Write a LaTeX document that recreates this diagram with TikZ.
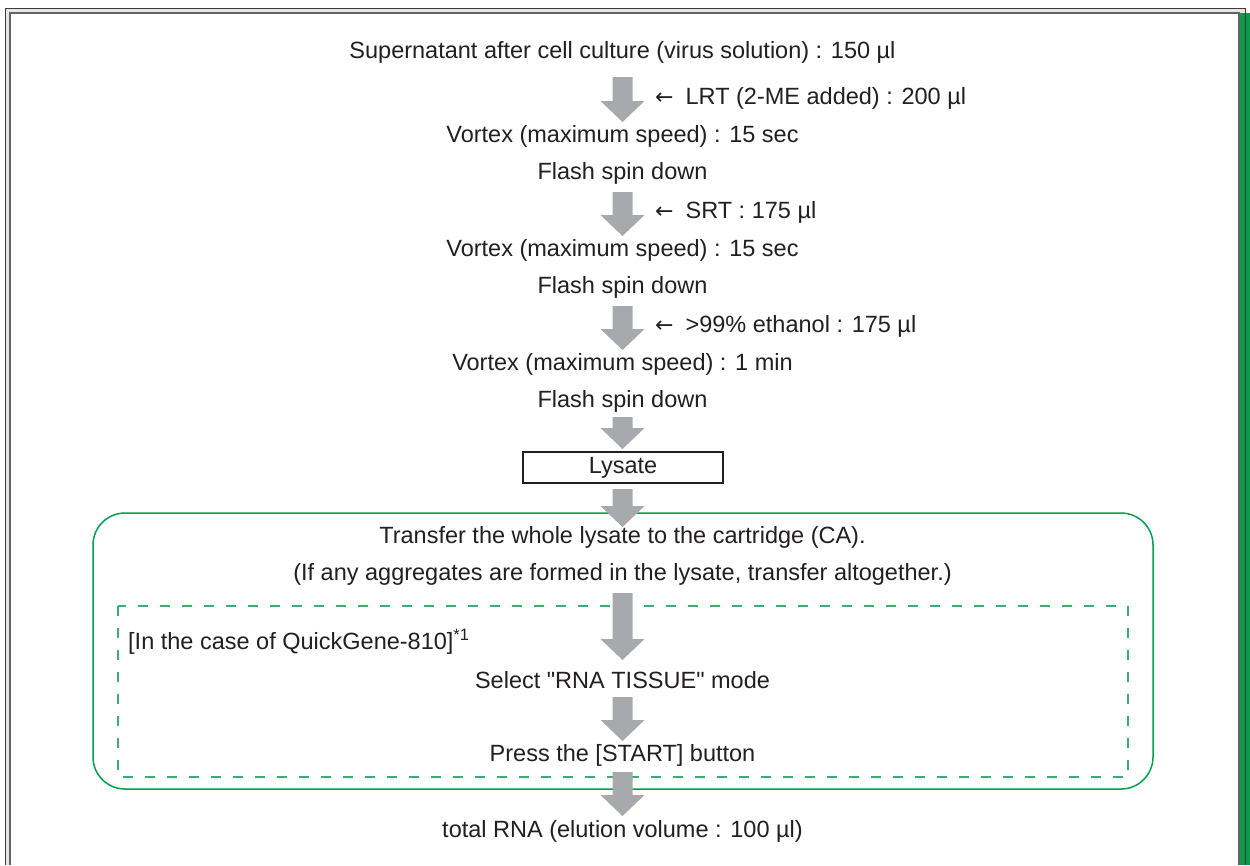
\documentclass[tikz,border=0pt]{standalone}
\usepackage{fontspec}
\setmainfont{Liberation Sans}[Ligatures=TeXOff]
\newfontfamily\symfont{DejaVu Sans}
\definecolor{txtc}{HTML}{231F20}
\definecolor{arrowc}{HTML}{A7A9AC}
\definecolor{greenc}{HTML}{00A04F}
\definecolor{dashc}{HTML}{3DAE70}
\definecolor{barc}{HTML}{0A9A4A}
\definecolor{framec}{HTML}{3C3C3C}
\definecolor{bandc}{HTML}{E6E6E6}
\newcommand{\blockarr}[2]{%
  \fill[arrowc] (612.5,#1) -- (632.5,#1) -- (632.5,{#2-21}) -- (644.5,{#2-21})
    -- (622.5,#2) -- (600.5,{#2-21}) -- (612.5,{#2-21}) -- cycle;}
\newcommand{\larr}{{\symfont\fontsize{22}{24}\selectfont ←}\hspace{12pt}}
\begin{document}
\begin{tikzpicture}[x=1pt,y=-1pt,
  txt/.style={font=\fontsize{23.5}{28}\selectfont, text=txtc, inner sep=0pt},
  side/.style={txt, anchor=west},
  boxed/.style={txt, draw=txtc, line width=1.2pt, minimum width=200pt, minimum height=31pt}]
\useasboundingbox (0,0) rectangle (1250,865);
% frame
\fill[bandc] (5,8) rectangle (1245,865);
\fill[white] (10,13) rectangle (1239,865);
\fill[barc] (1240,13) rectangle (1250,865);
\draw[framec, line width=1pt] (5,865) -- (5,8) -- (1245,8) -- (1245,865);
\draw[framec!80, line width=1.6pt] (10,865) -- (10,13) -- (1239,13) -- (1239,865);
% green boxes
\draw[greenc, line width=1.5pt, rounded corners=32pt] (93,513) rectangle (1153,789);
\draw[dashc, line width=1.3pt, dash pattern=on 10pt off 12pt] (118,606) rectangle (1128,777);
% texts
\node[txt] (sup) at (622.5,52) {Supernatant after cell culture (virus solution) : 150 µl};
\node[side] (lrt) at (655,98) {\larr LRT (2-ME added) : 200 µl};
\node[txt] (v1) at (622.5,136) {Vortex (maximum speed) : 15 sec};
\node[txt] (f1) at (622.5,173) {Flash spin down};
\node[side] (srt) at (655,212) {\larr SRT : 175 µl};
\node[txt] (v2) at (622.5,250) {Vortex (maximum speed) : 15 sec};
\node[txt] (f2) at (622.5,287) {Flash spin down};
\node[side] (eth) at (655,326) {\larr >99\% ethanol : 175 µl};
\node[txt] (v3) at (622.5,364) {Vortex (maximum speed) : 1 min};
\node[txt] (f3) at (622.5,401) {Flash spin down};
\node[boxed, fill=white] (lys) at (623,467.5) {Lysate};
\node[txt] (tr1) at (622.5,537) {Transfer the whole lysate to the cartridge (CA).};
\node[txt] (tr2) at (622.5,574) {(If any aggregates are formed in the lysate, transfer altogether.)};
\node[side] (qg) at (128,642) {[In the case of QuickGene-810]\textsuperscript{*1}};
\node[txt] (sel) at (622.5,680) {Select "RNA TISSUE" mode};
\node[txt] (prs) at (622.5,755) {Press the [START] button};
\node[txt] (tot) at (622.5,831) {total RNA (elution volume : 100 µl)};
% block arrows
\blockarr{77}{122}
\blockarr{192}{236}
\blockarr{306}{350}
\blockarr{417}{449}
\blockarr{489}{527}
\blockarr{593}{660}
\blockarr{697}{741}
\blockarr{772}{816}
\end{tikzpicture}
\end{document}
